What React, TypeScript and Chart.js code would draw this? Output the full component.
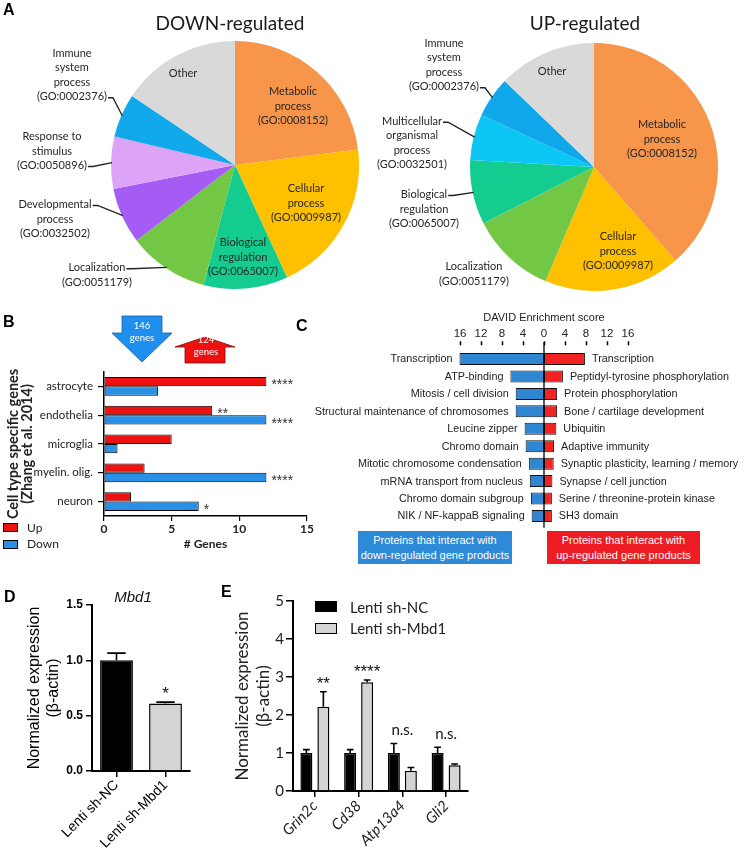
import React, { useEffect, useRef } from 'react';
import { Chart, registerables } from 'chart.js';

Chart.register(...registerables);

// ---------------- DATA ----------------
// Panel A – GO categories (share of genes, %), clockwise from 12 o'clock
const downGoTerms = ['Metabolic process', 'Cellular process', 'Biological regulation', 'Localization', 'Developmental process', 'Response to stimulus', 'Immune system process', 'Other'];
const downGoShares = [23.0, 20.1, 11.0, 10.5, 7.3, 6.8, 5.7, 15.6];
const upGoTerms = ['Metabolic process', 'Cellular process', 'Localization', 'Biological regulation', 'Multicellular organismal process', 'Immune system process', 'Other'];
const upGoShares = [38.6, 17.8, 11.1, 8.4, 6.0, 5.3, 12.8];

// Panel B – cell type specific genes
const cellTypes = ['astrocyte', 'endothelia', 'microglia', 'myelin. olig.', 'neuron'];
const upGenes = [12, 8, 5, 3, 2];
const downGenes = [4, 12, 1, 12, 7];
const upStars = ['****', '**', '', '', ''];
const downStars = ['', '****', '', '****', '*'];
const xTicksB = [0, 5, 10, 15];

// Panel C – DAVID enrichment
const davidDownTerms = ['Transcription', 'ATP-binding', 'Mitosis / cell division', 'Structural maintenance of chromosomes', 'Leucine zipper', 'Chromo domain', 'Mitotic chromosome condensation', 'mRNA transport from nucleus', 'Chromo domain subgroup', 'NIK / NF-kappaB signaling'];
const davidDownScores = [16.1, 6.4, 5.4, 5.4, 3.7, 3.5, 2.9, 2.7, 2.5, 2.35];
const davidUpTerms = ['Transcription', 'Peptidyl-tyrosine phosphorylation', 'Protein phosphorylation', 'Bone / cartilage development', 'Ubiquitin', 'Adaptive immunity', 'Synaptic plasticity, learning / memory', 'Synapse / cell junction', 'Serine / threonine-protein kinase', 'SH3 domain'];
const davidUpScores = [7.8, 3.6, 2.5, 2.5, 2.35, 1.9, 1.85, 1.6, 1.5, 1.5];
const davidTicks = [-16, -12, -8, -4, 0, 4, 8, 12, 16];

// Panel D – Mbd1 knockdown
const mbd1Groups = ['Lenti sh-NC', 'Lenti sh-Mbd1'];
const mbd1Means = [1.0, 0.61];
const mbd1Errors = [0.065, 0.012];
const mbd1Sig = ['', '*'];

// Panel E – target genes
const qpcrGenes = ['Grin2c', 'Cd38', 'Atp13a4', 'Gli2'];
const ncMeans = [1.0, 1.0, 1.0, 1.0];
const ncErrors = [0.09, 0.09, 0.25, 0.15];
const shMbd1Means = [2.22, 2.86, 0.53, 0.68];
const shMbd1Errors = [0.39, 0.06, 0.09, 0.03];
const qpcrSig = ['**', '****', 'n.s.', 'n.s.'];

// ---------------- STYLE ----------------
const SANS = 'Lato, "Open Sans", sans-serif';
const ARIAL = 'Arial, "Liberation Sans", sans-serif';
const RED = '#EE1111';
const BLUE = '#2A90E6';
const GREY = '#D4D4D4';

const downPieColors = ['#F7964A', '#FFC000', '#14CC8F', '#72C844', '#A55CF4', '#DDA3F6', '#12A9EC', '#D9D9D9'];
const upPieColors = ['#F7964A', '#FFC000', '#72C844', '#14CC8F', '#0CC6F6', '#10A8EA', '#D9D9D9'];

// label placement (offsets from the pie centre, px)
const downPieLabels = [
  { lines: ['Metabolic', 'process', '(GO:0008152)'], dx: 58, dy: -59 },
  { lines: ['Cellular', 'process', '(GO:0009987)'], dx: 71, dy: 38 },
  { lines: ['Biological', 'regulation', '(GO:0065007)'], dx: 8, dy: 92 },
  { lines: ['Localization', '(GO:0051179)'], dx: -138, dy: 110, leader: 0 },
  { lines: ['Developmental', 'process', '(GO:0032502)'], dx: -180, dy: 54, leader: 0 },
  { lines: ['Response to', 'stimulus', '(GO:0050896)'], dx: -183, dy: -14, leader: 2 },
  { lines: ['Immune', 'system', 'process', '(GO:0002376)'], dx: -163, dy: -90, leader: 3 },
  { lines: ['Other'], dx: -52, dy: -92 },
];
const upPieLabels = [
  { lines: ['Metabolic', 'process', '(GO:0008152)'], dx: 68, dy: -28 },
  { lines: ['Cellular', 'process', '(GO:0009987)'], dx: 24, dy: 84 },
  { lines: ['Localization', '(GO:0051179)'], dx: -120, dy: 107 },
  { lines: ['Biological', 'regulation', '(GO:0065007)'], dx: -170, dy: 42, leader: 0 },
  { lines: ['Multicellular', 'organismal', 'process', '(GO:0032501)'], dx: -182, dy: -24, leader: 0 },
  { lines: ['Immune', 'system', 'process', '(GO:0002376)'], dx: -150, dy: -102, leader: 3 },
  { lines: ['Other'], dx: -42, dy: -96 },
];

// ---------------- PLUGINS ----------------
function pieLabelPlugin(labels: any[]) {
  return {
    id: 'pieLabels',
    afterDatasetsDraw(chart: any) {
      const ctx = chart.ctx;
      const LH = 14.5;
      ctx.save();
      ctx.font = `11px ${SANS}`;
      ctx.fillStyle = '#262626';
      ctx.strokeStyle = '#222';
      ctx.lineWidth = 1.3;
      ctx.textAlign = 'center';
      ctx.textBaseline = 'middle';
      chart.getDatasetMeta(0).data.forEach((arc: any, i: number) => {
        const L = labels[i];
        if (!L) return;
        const p = arc.getProps(['x', 'y', 'startAngle', 'endAngle', 'outerRadius'], true);
        const cx = p.x + L.dx;
        const cy = p.y + L.dy;
        const n = L.lines.length;
        L.lines.forEach((t: string, k: number) => ctx.fillText(t, cx, cy + (k - (n - 1) / 2) * LH));
        if (L.leader !== undefined) {
          const mid = (p.startAngle + p.endAngle) / 2;
          const ex = p.x + Math.cos(mid) * (p.outerRadius - 1);
          const ey = p.y + Math.sin(mid) * (p.outerRadius - 1);
          const ly = cy + (L.leader - (n - 1) / 2) * LH + 1;
          const lx = cx + ctx.measureText(L.lines[L.leader]).width / 2 + 1;
          ctx.beginPath();
          ctx.moveTo(lx, ly);
          ctx.lineTo(lx + 5, ly);
          ctx.lineTo(ex, ey);
          ctx.stroke();
        }
      });
      ctx.restore();
    },
  };
}

function barStarsPlugin(stars: string[][]) {
  return {
    id: 'barStars',
    afterDatasetsDraw(chart: any) {
      const ctx = chart.ctx;
      ctx.save();
      ctx.font = `14px ${ARIAL}`;
      ctx.fillStyle = '#333';
      ctx.textAlign = 'left';
      ctx.textBaseline = 'middle';
      stars.forEach((arr, di) => {
        chart.getDatasetMeta(di).data.forEach((bar: any, i: number) => {
          if (!arr[i]) return;
          const p = bar.getProps(['x', 'y'], true);
          ctx.fillText(arr[i], p.x + 5, p.y + 4);
        });
      });
      ctx.restore();
    },
  };
}

const davidPlugin = {
  id: 'david',
  afterDatasetsDraw(chart: any) {
    const { ctx, chartArea } = chart;
    const x = chart.scales.x;
    ctx.save();
    ctx.strokeStyle = '#000';
    ctx.lineWidth = 1.5;
    davidTicks.forEach((v) => {
      const px = Math.round(x.getPixelForValue(v)) + 0.5;
      ctx.beginPath();
      ctx.moveTo(px, chartArea.top - 9);
      ctx.lineTo(px, chartArea.top - 5);
      ctx.stroke();
    });
    const x0 = x.getPixelForValue(0);
    ctx.lineWidth = 1.3;
    ctx.beginPath();
    ctx.moveTo(x0, chartArea.top - 8);
    ctx.lineTo(x0, chartArea.bottom + 3);
    ctx.stroke();
    ctx.font = `10.8px ${ARIAL}`;
    ctx.fillStyle = '#222';
    ctx.textBaseline = 'middle';
    const terms = [davidDownTerms, davidUpTerms];
    [0, 1].forEach((di) => {
      chart.getDatasetMeta(di).data.forEach((bar: any, i: number) => {
        const p = bar.getProps(['x', 'y'], true);
        if (di === 0) {
          ctx.textAlign = 'right';
          ctx.fillText(terms[di][i], p.x - 7, p.y + 0.5);
        } else {
          ctx.textAlign = 'left';
          ctx.fillText(terms[di][i], p.x + 7, p.y + 0.5);
        }
      });
    });
    ctx.restore();
  },
};

function errorBarPlugin(errs: number[][]) {
  return {
    id: 'errBars',
    afterDatasetsDraw(chart: any) {
      const ctx = chart.ctx;
      const ys = chart.scales.y;
      ctx.save();
      ctx.strokeStyle = '#000';
      ctx.lineWidth = 1.6;
      errs.forEach((arr, di) => {
        chart.getDatasetMeta(di).data.forEach((bar: any, i: number) => {
          const v = chart.data.datasets[di].data[i];
          const p = bar.getProps(['x', 'y', 'width'], true);
          const top = ys.getPixelForValue(v + arr[i]);
          const half = (p.width * 0.56) / 2;
          ctx.beginPath();
          ctx.moveTo(p.x, p.y);
          ctx.lineTo(p.x, top);
          ctx.moveTo(p.x - half, top);
          ctx.lineTo(p.x + half, top);
          ctx.stroke();
        });
      });
      ctx.restore();
    },
  };
}

function sigPlugin(sigs: string[], errs: number[][]) {
  return {
    id: 'sig',
    afterDatasetsDraw(chart: any) {
      const ctx = chart.ctx;
      const xs = chart.scales.x;
      const ys = chart.scales.y;
      const nds = chart.data.datasets.length;
      ctx.save();
      ctx.fillStyle = '#111';
      ctx.textAlign = 'center';
      ctx.textBaseline = 'alphabetic';
      sigs.forEach((s, i) => {
        if (!s) return;
        let top = Infinity;
        for (let di = 0; di < nds; di++) {
          const v = chart.data.datasets[di].data[i] + errs[di][i];
          top = Math.min(top, ys.getPixelForValue(v));
        }
        const ns = s === 'n.s.';
        const bar = chart.getDatasetMeta(nds - 1).data[i];
        const px = ns ? xs.getPixelForValue(i) : bar.x;
        ctx.font = ns ? `15px ${SANS}` : `17px ${ARIAL}`;
        ctx.fillText(s, px, top - (ns ? 8.5 : 3));
      });
      ctx.restore();
    },
  };
}

// ---------------- CONFIGS ----------------
const base = { responsive: false, animation: false, events: [] as any[] };
const noLegend = { legend: { display: false }, tooltip: { enabled: false } };

function pieConfig(terms: string[], values: number[], colors: string[], labels: any[], padding: any) {
  return {
    type: 'pie',
    data: { labels: terms, datasets: [{ data: values, backgroundColor: colors, borderWidth: 0 }] },
    options: { ...base, layout: { padding }, plugins: noLegend },
    plugins: [pieLabelPlugin(labels)],
  };
}

function cellTypeConfig() {
  return {
    type: 'bar',
    data: {
      labels: cellTypes,
      datasets: [
        { label: 'Up', data: upGenes, backgroundColor: RED, borderColor: '#000', borderWidth: 1, borderSkipped: false },
        { label: 'Down', data: downGenes, backgroundColor: BLUE, borderColor: '#000', borderWidth: 1, borderSkipped: false },
      ],
    },
    options: {
      ...base,
      indexAxis: 'y',
      layout: { padding: { left: 0, top: 9.5, right: 23, bottom: 9 } },
      datasets: { bar: { categoryPercentage: 0.65, barPercentage: 1 } },
      plugins: noLegend,
      scales: {
        x: {
          min: 0,
          max: 15,
          afterBuildTicks: (s: any) => { s.ticks = xTicksB.map((v) => ({ value: v })); },
          ticks: { color: '#222', font: { family: SANS, size: 12, weight: 'bold' }, padding: 1 },
          grid: { drawOnChartArea: false, drawTicks: true, tickLength: 5, color: '#000', lineWidth: 1.2 },
          border: { color: '#000', width: 1.5 },
          title: { display: true, text: '# Genes', color: '#222', font: { family: SANS, size: 12, weight: 'bold' }, padding: 0 },
          afterFit: (s: any) => { s.height = 35; },
        },
        y: {
          ticks: { color: '#222', font: { family: SANS, size: 11.5 }, padding: 5 },
          grid: { offset: false, drawOnChartArea: false, drawTicks: true, tickLength: 6, color: '#000', lineWidth: 1.2 },
          border: { color: '#000', width: 1.5 },
          title: {
            display: true,
            text: ['Cell type specific genes', '(Zhang et al. 2014)'],
            color: '#222',
            font: { family: SANS, size: 14.5, weight: 'bold', lineHeight: 0.98 },
            padding: { top: 6, bottom: 0 },
          },
          afterFit: (s: any) => { s.width = 104; },
        },
      },
    },
    plugins: [barStarsPlugin([upStars, downStars])],
  };
}

function davidConfig() {
  return {
    type: 'bar',
    data: {
      labels: davidDownTerms,
      datasets: [
        { data: davidDownScores.map((v) => -v), backgroundColor: '#2F86D2', borderColor: '#111', borderWidth: 1, borderSkipped: false },
        { data: davidUpScores, backgroundColor: '#F02222', borderColor: '#111', borderWidth: 1, borderSkipped: false },
      ],
    },
    options: {
      ...base,
      indexAxis: 'y',
      layout: { padding: { left: 167.4, right: 113.4, top: 0, bottom: 5.3 } },
      datasets: { bar: { categoryPercentage: 1, barPercentage: 0.69 } },
      plugins: noLegend,
      scales: {
        x: {
          position: 'top',
          stacked: true,
          min: -16.5,
          max: 16.5,
          afterBuildTicks: (s: any) => { s.ticks = davidTicks.map((v) => ({ value: v })); },
          ticks: { callback: (v: any) => String(Math.abs(v)), color: '#222', font: { family: ARIAL, size: 11.5 }, padding: 10 },
          grid: { display: false, drawTicks: false, tickLength: 0 },
          border: { display: false },
          title: { display: true, text: 'DAVID Enrichment score', color: '#222', font: { family: ARIAL, size: 11 }, padding: { top: 11, bottom: 0 } },
          afterFit: (s: any) => { s.height = 50.3; },
        },
        y: { stacked: true, display: false },
      },
    },
    plugins: [davidPlugin],
  };
}

function mbd1Config() {
  return {
    type: 'bar',
    data: {
      labels: mbd1Groups,
      datasets: [{ data: mbd1Means, backgroundColor: ['#000', GREY], borderColor: '#000', borderWidth: 1.5, barPercentage: 0.67, categoryPercentage: 1 }],
    },
    options: {
      ...base,
      layout: { padding: { left: 0, right: 10, top: 15, bottom: 2 } },
      plugins: noLegend,
      scales: {
        x: {
          ticks: { autoSkip: false, maxRotation: 45, minRotation: 45, color: '#000', font: { family: ARIAL, size: 14 }, padding: 0 },
          grid: { offset: false, drawOnChartArea: false, tickLength: 6, color: '#000', lineWidth: 1.5 },
          border: { color: '#000', width: 2 },
          afterFit: (s: any) => { s.height = 80; },
        },
        y: {
          min: 0,
          max: 1.5,
          ticks: { stepSize: 0.5, callback: (v: any) => Number(v).toFixed(1), color: '#000', font: { family: ARIAL, size: 12, weight: 'bold' }, padding: 3 },
          grid: { drawOnChartArea: false, tickLength: 6, color: '#000', lineWidth: 1.5 },
          border: { color: '#000', width: 2 },
          title: { display: true, text: ['Normalized expression', '(β-actin)'], color: '#000', font: { family: ARIAL, size: 16 }, padding: { top: 25, bottom: 0 } },
          afterFit: (s: any) => { s.width = 92; },
        },
      },
    },
    plugins: [errorBarPlugin([mbd1Errors]), sigPlugin(mbd1Sig, [mbd1Errors])],
  };
}

function qpcrConfig() {
  return {
    type: 'bar',
    data: {
      labels: qpcrGenes,
      datasets: [
        { label: 'Lenti sh-NC', data: ncMeans, backgroundColor: '#000', borderColor: '#000', borderWidth: 1.5 },
        { label: 'Lenti sh-Mbd1', data: shMbd1Means, backgroundColor: GREY, borderColor: '#000', borderWidth: 1.5 },
      ],
    },
    options: {
      ...base,
      layout: { padding: { left: 0, right: 12, top: 11, bottom: 2 } },
      datasets: { bar: { categoryPercentage: 0.777, barPercentage: 0.706 } },
      plugins: noLegend,
      scales: {
        x: {
          ticks: { autoSkip: false, maxRotation: 45, minRotation: 45, color: '#222', font: { family: SANS, size: 15, style: 'italic' }, padding: 0 },
          grid: { offset: false, drawOnChartArea: false, tickLength: 6, color: '#000', lineWidth: 1.5 },
          border: { color: '#000', width: 2 },
          afterFit: (s: any) => { s.height = 60; },
        },
        y: {
          min: 0,
          max: 5,
          ticks: { stepSize: 1, color: '#222', font: { family: SANS, size: 15 }, padding: 2 },
          grid: { drawOnChartArea: false, tickLength: 7, color: '#000', lineWidth: 1.5 },
          border: { color: '#000', width: 2 },
          title: { display: true, text: ['Normalized expression', '(β-actin)'], color: '#222', font: { family: SANS, size: 17 }, padding: { top: 32.8, bottom: 0 } },
          afterFit: (s: any) => { s.width = 93; },
        },
      },
    },
    plugins: [errorBarPlugin([ncErrors, shMbd1Errors]), sigPlugin(qpcrSig, [ncErrors, shMbd1Errors])],
  };
}

// ---------------- COMPONENTS ----------------
function ChartCanvas({ x, y, w, h, make }: any) {
  const ref = useRef<HTMLCanvasElement>(null);
  useEffect(() => {
    const chart = new Chart(ref.current as HTMLCanvasElement, make());
    return () => chart.destroy();
  }, []);
  return <canvas ref={ref} width={w} height={h} style={{ position: 'absolute', left: x, top: y, width: w, height: h, display: 'block' }} />;
}

function Txt({ x, y, size, children, family = SANS, weight = 'normal', italic = false, color = '#222', align = 'left', w = 300 }: any) {
  const left = align === 'center' ? x - w / 2 : x;
  return (
    <div
      style={{
        position: 'absolute',
        left,
        top: y - size * 0.6,
        width: align === 'center' ? w : undefined,
        textAlign: align,
        fontFamily: family,
        fontSize: size,
        fontWeight: weight,
        fontStyle: italic ? 'italic' : 'normal',
        lineHeight: 1.2,
        color,
        whiteSpace: 'nowrap',
      }}
    >
      {children}
    </div>
  );
}

function Box({ x, y, w, h, bg, border = '1px solid #000' }: any) {
  return <div style={{ position: 'absolute', left: x, top: y, width: w, height: h, background: bg, border, boxSizing: 'border-box' }} />;
}

export default function App() {
  useEffect(() => {
    document.body.style.margin = '0';
  }, []);
  return (
    <div style={{ position: 'fixed', left: 0, top: 0, width: 744, height: 853, background: '#fff', overflow: 'hidden' }}>
      {/* Panel A */}
      <ChartCanvas x={0} y={0} w={372} h={300} make={() => pieConfig(downGoTerms, downGoShares, downPieColors, downPieLabels, { left: 111, right: 13, top: 41, bottom: 11 })} />
      <ChartCanvas x={372} y={0} w={372} h={300} make={() => pieConfig(upGoTerms, upGoShares, upPieColors, upPieLabels, { left: 98, right: 26, top: 43, bottom: 9 })} />
      <Txt x={230} y={23} size={19} align="center" color="#1a1a1a">DOWN-regulated</Txt>
      <Txt x={585} y={23} size={19} align="center" color="#1a1a1a">UP-regulated</Txt>

      {/* Panel B */}
      <ChartCanvas x={0} y={360} w={330} h={200} make={cellTypeConfig} />
      <svg width={744} height={853} style={{ position: 'absolute', left: 0, top: 0, pointerEvents: 'none' }}>
        <polygon points="122,316 162,316 162,333 172,333 142,362 112,333 122,333" fill="#1E8FEE" stroke="#1B5E9E" strokeWidth={0.8} />
        <polygon points="205,337 235,347 225,347 225,363 185,363 185,347 175,347" fill="#EE0F0F" stroke="#7A0A0A" strokeWidth={0.8} />
        <text x={142} y={329} fill="#fff" fontFamily={SANS} fontSize={9.5} textAnchor="middle">146</text>
        <text x={142} y={340.5} fill="#fff" fontFamily={SANS} fontSize={9.5} textAnchor="middle">genes</text>
        <text x={206} y={343} fill="#fff" fontFamily={SANS} fontSize={9.5} textAnchor="middle">124</text>
        <text x={206} y={355} fill="#fff" fontFamily={SANS} fontSize={9.5} textAnchor="middle">genes</text>
      </svg>
      <Box x={3} y={523} w={15} h={9} bg={RED} />
      <Txt x={27} y={528} size={12}>Up</Txt>
      <Box x={3} y={540} w={15} h={9} bg={BLUE} />
      <Txt x={27} y={544} size={12}>Down</Txt>

      {/* Panel C */}
      <ChartCanvas x={290} y={300} w={454} h={230} make={davidConfig} />
      <div style={{ position: 'absolute', left: 358, top: 531, width: 154, height: 33, background: '#2C8AD8', color: '#fff', fontFamily: ARIAL, fontSize: 11, lineHeight: '15px', textAlign: 'center', display: 'flex', flexDirection: 'column', justifyContent: 'center' }}>
        <div>Proteins that interact with</div>
        <div>down-regulated gene products</div>
      </div>
      <div style={{ position: 'absolute', left: 547, top: 531, width: 153, height: 33, background: '#EE1D23', color: '#fff', fontFamily: ARIAL, fontSize: 11, lineHeight: '15px', textAlign: 'center', display: 'flex', flexDirection: 'column', justifyContent: 'center' }}>
        <div>Proteins that interact with</div>
        <div>up-regulated gene products</div>
      </div>

      {/* Panel D */}
      <ChartCanvas x={0} y={590} w={200} h={263} make={mbd1Config} />
      <Txt x={133} y={597} size={15} family={ARIAL} italic align="center" w={100} color="#111">Mbd1</Txt>

      {/* Panel E */}
      <ChartCanvas x={200} y={590} w={280} h={263} make={qpcrConfig} />
      <Box x={315} y={601} w={22} h={11} bg="#000" />
      <Txt x={350} y={607} size={15}>Lenti sh-NC</Txt>
      <Box x={315} y={623} w={22} h={11} bg={GREY} />
      <Txt x={350} y={628} size={15}>Lenti sh-Mbd1</Txt>

      {/* Panel letters */}
      <Txt x={3} y={10} size={16} family={ARIAL} weight="bold" color="#000">A</Txt>
      <Txt x={3} y={322} size={16} family={ARIAL} weight="bold" color="#000">B</Txt>
      <Txt x={296} y={326} size={16} family={ARIAL} weight="bold" color="#000">C</Txt>
      <Txt x={4} y={597} size={16} family={ARIAL} weight="bold" color="#000">D</Txt>
      <Txt x={221} y={592} size={16} family={ARIAL} weight="bold" color="#000">E</Txt>
    </div>
  );
}
